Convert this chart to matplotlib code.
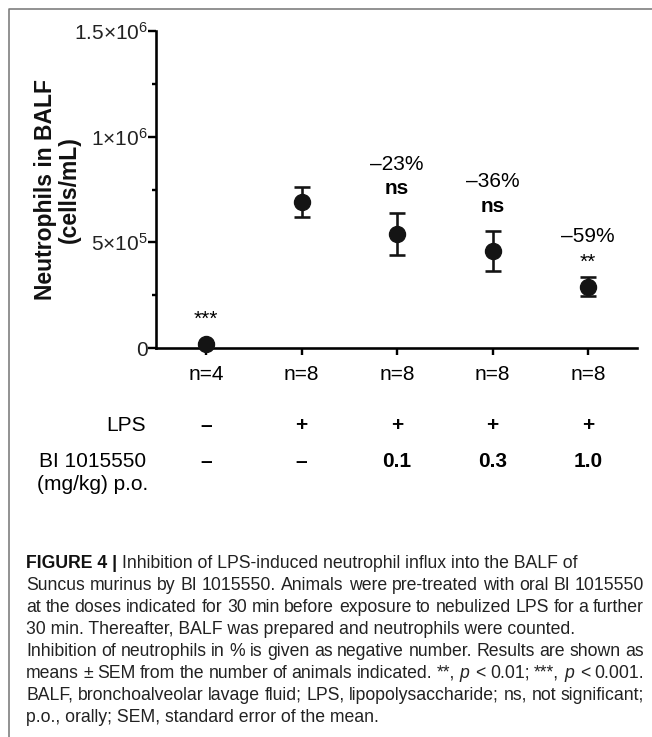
import numpy as np
import matplotlib
matplotlib.use('Agg')
import matplotlib.pyplot as plt
from matplotlib.lines import Line2D
from matplotlib.transforms import blended_transform_factory

# data
groups = ['n=4', 'n=8', 'n=8', 'n=8', 'n=8']
means = [2.0e4, 6.9e5, 5.4e5, 4.6e5, 2.9e5]
sems = [5.0e3, 7.0e4, 1.0e5, 9.5e4, 4.5e4]
pct_labels = ['', '', '\u201323%', '\u201336%', '\u201359%']
sig_labels = ['***', '', 'ns', 'ns', '**']
lps_row = ['\u2013', '+', '+', '+', '+']
dose_row = ['\u2013', '\u2013', '0.1', '0.3', '1.0']
yticks = [0, 5e5, 1e6, 1.5e6]
ytick_labels = ['0', r'5×10$^{5}$', r'1×10$^{6}$', r'1.5×10$^{6}$']

caption = [
    'Inhibition of LPS-induced neutrophil influx into the BALF of',
    'Suncus murinus by BI 1015550. Animals were pre-treated with oral BI 1015550',
    'at the doses indicated for 30 min before exposure to nebulized LPS for a further',
    '30 min. Thereafter, BALF was prepared and neutrophils were counted.',
    'Inhibition of neutrophils in % is given as negative number. Results are shown as',
    r'means ± SEM from the number of animals indicated. **, $p$ < 0.01; ***, $p$ < 0.001.',
    'BALF, bronchoalveolar lavage fluid; LPS, lipopolysaccharide; ns, not significant;',
    'p.o., orally; SEM, standard error of the mean.',
]
justify = [False, True, True, False, True, True, True, False]

plt.rcParams['font.family'] = ['Liberation Sans', 'DejaVu Sans']
plt.rcParams['mathtext.fontset'] = 'custom'
plt.rcParams['mathtext.rm'] = 'Liberation Sans'
plt.rcParams['mathtext.it'] = 'Liberation Sans:italic'
plt.rcParams['mathtext.bf'] = 'Liberation Sans:bold'

W, H = 652, 737
fig = plt.figure(figsize=(W / 100, H / 100), dpi=100)
px = 1 / 1.389  # pixels -> points at 100 dpi
fs = 15

ax_left, ax_right, ax_top, ax_bot = 156, 637, 31, 348
ax = fig.add_axes([ax_left / W, 1 - ax_bot / H, (ax_right - ax_left) / W, (ax_bot - ax_top) / H])

x = np.arange(len(means))
ax.errorbar(x, means, yerr=sems, fmt='o', color='#141414', ms=16 * px,
            elinewidth=2.6 * px, capsize=8 * px, capthick=2.6 * px, clip_on=False, zorder=3)

ax.set_ylim(0, 1.5e6)
ax.set_xlim(-0.524, 4.513)
ax.set_yticks(yticks, ytick_labels, fontsize=fs)
ax.set_yticks([2.5e5, 7.5e5, 1.25e6], minor=True)
ax.set_xticks(x, [''] * len(x))
for s in ['top', 'right']:
    ax.spines[s].set_visible(False)
for s in ['left', 'bottom']:
    ax.spines[s].set_linewidth(2.6 * px)
    ax.spines[s].set_color('black')
ax.tick_params(axis='y', which='major', length=8 * px, width=2.4 * px, pad=0, colors='black', labelcolor='#222222')
ax.tick_params(axis='y', which='minor', length=4 * px, width=2.4 * px)
ax.tick_params(axis='x', length=7 * px, width=2.4 * px)

# annotations above the error bars
sig_off = [28, 0, 24, 24, 20]
pct_off = [0, 0, 48, 49, 41]
for i in x:
    top = means[i] + sems[i]
    if sig_labels[i]:
        bold = 'bold' if sig_labels[i] == 'ns' else 'normal'
        dy = -5 if '*' in sig_labels[i] else 0
        ax.annotate(sig_labels[i], (i, top), xytext=(0, (sig_off[i] + dy) * px), textcoords='offset points',
                    ha='center', va='center', fontsize=fs, fontweight=bold)
    if pct_labels[i]:
        ax.annotate(pct_labels[i], (i, top), xytext=(0, pct_off[i] * px), textcoords='offset points',
                    ha='center', va='center', fontsize=fs)

fig.text(57 / W, 1 - 190 / H, 'Neutrophils in BALF\n(cells/mL)', rotation=90, ha='center', va='center',
         fontsize=16.5, fontweight='bold', linespacing=1.05, color='#111111')

# table rows under the axis
tr = blended_transform_factory(ax.transData, fig.transFigure)
for i in x:
    fig.text(i, 1 - 375 / H, groups[i], transform=tr, ha='center', va='center', fontsize=fs)
    fig.text(i, 1 - 425 / H, lps_row[i], transform=tr, ha='center', va='center', fontsize=fs, fontweight='bold')
    fig.text(i, 1 - 461 / H, dose_row[i], transform=tr, ha='center', va='center', fontsize=fs, fontweight='bold')
fig.text(146 / W, 1 - 425 / H, 'LPS', ha='right', va='center', fontsize=fs)
fig.text(146 / W, 1 - 461 / H, 'BI 1015550', ha='right', va='center', fontsize=fs)
fig.text(148 / W, 1 - 484 / H, '(mg/kg) p.o.', ha='right', va='center', fontsize=fs)

# frame lines
fx = 8.5 / W
fy = 1 - 8.5 / H
fig.add_artist(Line2D([fx, fx, 1], [0, fy, fy], transform=fig.transFigure, color='#7a7a7a', lw=1.6 * px))

# caption
renderer = fig.canvas.get_renderer()


def width_of(s, size, weight='normal'):
    t = fig.text(0, 0, s, fontsize=size, fontweight=weight)
    w = t.get_window_extent(renderer).width
    t.remove()
    return w


cap_left, cap_right = 26, 644
cap_base0, cap_dy = 568, 22
cap_size = 10.4 * 622 / width_of(caption[4], 10.4)
for k, line in enumerate(caption):
    y = 1 - (cap_base0 + k * cap_dy) / H
    xs = cap_left
    if k == 0:
        t = fig.text(xs / W, y, 'FIGURE 4 | ', fontsize=cap_size, fontweight='bold', va='baseline', color='#111111')
        xs += t.get_window_extent(renderer).width
    if justify[k]:
        words = line.split(' ')
        ws = [width_of(wd, cap_size) for wd in words]
        gap = (cap_right - xs - sum(ws)) / (len(words) - 1)
        for wd, ww in zip(words, ws):
            fig.text(xs / W, y, wd, fontsize=cap_size, va='baseline', color='#222222')
            xs += ww + gap
    else:
        fig.text(xs / W, y, line, fontsize=cap_size, va='baseline', color='#222222')

fig.savefig('out.png', dpi=100)
